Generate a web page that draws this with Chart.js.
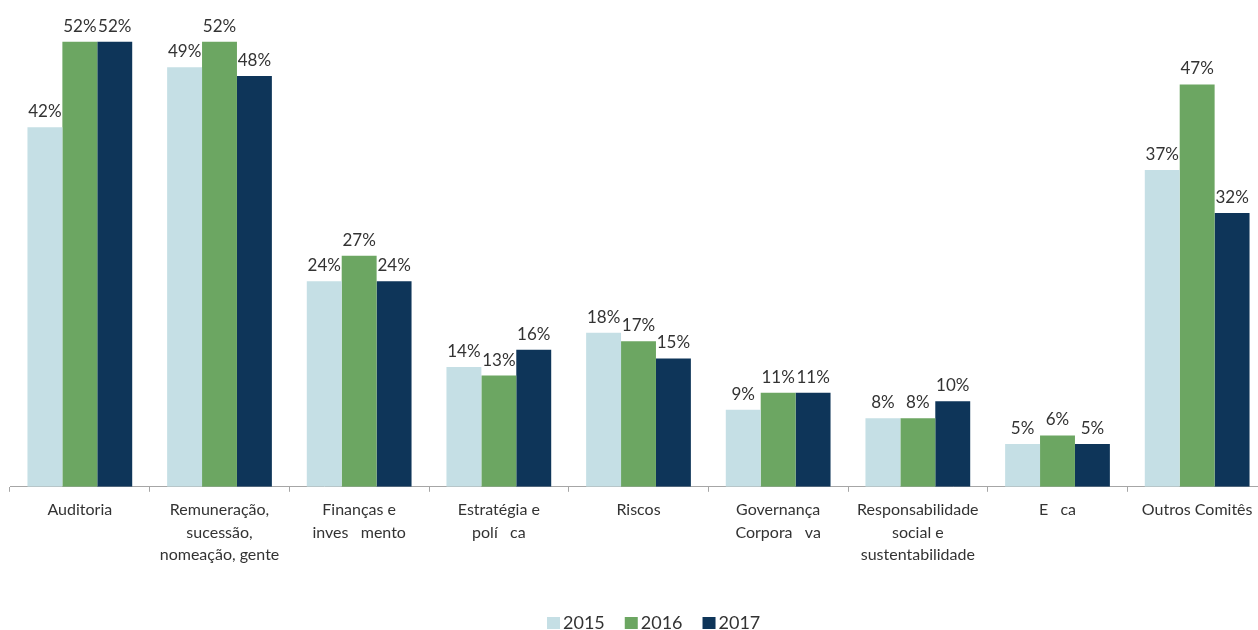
<!DOCTYPE html>
<html>
<head>
<meta charset="utf-8">
<script src="https://cdn.jsdelivr.net/npm/chart.js@4/dist/chart.umd.min.js"></script>
<style>
  html, body { margin: 0; padding: 0; background: #fff; overflow: hidden; }
  #wrap { width: 1280px; height: 630px; position: relative; }
</style>
</head>
<body>
<div id="wrap"><canvas id="comites"></canvas></div>
<script>
// committees
let categorias = [
    ['Auditoria'],
    ['Remuneração,', 'sucessão,', 'nomeação, gente'],
    ['Finanças e', 'inves   mento'],
    ['Estratégia e', 'polí   ca'],
    ['Riscos'],
    ['Governança', 'Corpora   va'],
    ['Responsabilidade', 'social e', 'sustentabilidade'],
    ['E   ca'],
    ['Outros Comitês']
];
let anos = ['2015', '2016', '2017'];
let v2015 = [42, 49, 24, 14, 18, 9, 8, 5, 37];
let v2016 = [52, 52, 27, 13, 17, 11, 8, 6, 47];
let v2017 = [52, 48, 24, 16, 15, 11, 10, 5, 32];
let cores = ['#c5dfe5', '#6ca662', '#0e3559'];

let fonte = 'Lato, "Open Sans", sans-serif';
let texto = '#333333';

// percentage above each bar
const rotulos = {
    id: 'rotulos',
    afterDatasetsDraw(chart) {
        let ctx = chart.ctx;
        ctx.save();
        ctx.font = '17px ' + fonte;
        ctx.fillStyle = texto;
        ctx.textAlign = 'center';
        ctx.textBaseline = 'alphabetic';
        chart.data.datasets.forEach(function(ds, i) {
            chart.getDatasetMeta(i).data.forEach(function(bar, j) {
                ctx.fillText(ds.data[j] + '%', bar.x, bar.y - 10);
            });
        });
        ctx.restore();
    }
};

// legend row under the axis labels
const legenda = {
    id: 'legenda',
    afterDraw(chart) {
        let ctx = chart.ctx;
        ctx.save();
        ctx.font = '18px ' + fonte;
        ctx.textBaseline = 'alphabetic';
        let x = 547, y = 629;
        chart.data.datasets.forEach(function(ds) {
            ctx.fillStyle = ds.backgroundColor;
            ctx.fillRect(x, y - 12, 13, 12);
            ctx.fillStyle = texto;
            ctx.fillText(ds.label, x + 16, y);
            x += 16 + ctx.measureText(ds.label).width + 20;
        });
        ctx.restore();
    }
};

let el = document.getElementById('comites').getContext('2d');
window.chart_comites = new Chart(el, {
    type: 'bar',
    data: {
        labels: categorias,
        datasets: [
            { label: anos[0], data: v2015, backgroundColor: cores[0] },
            { label: anos[1], data: v2016, backgroundColor: cores[1] },
            { label: anos[2], data: v2017, backgroundColor: cores[2] }
        ]
    },
    options: {
        responsive: true,
        maintainAspectRatio: false,
        animation: false,
        layout: { padding: { left: 10, right: 13, top: 16, bottom: 57 } },
        datasets: { bar: { categoryPercentage: 0.75, barPercentage: 1.0 } },
        plugins: {
            legend: { display: false },
            tooltip: { enabled: false }
        },
        scales: {
            x: {
                grid: {
                    offset: true,
                    drawOnChartArea: false,
                    drawTicks: true,
                    tickLength: 5,
                    color: '#a6a6a6'
                },
                border: { display: true, color: '#a6a6a6', width: 1 },
                ticks: {
                    autoSkip: false,
                    maxRotation: 0,
                    padding: 7,
                    color: texto,
                    font: { family: fonte, size: 16, lineHeight: 1.4 }
                }
            },
            y: {
                display: false,
                min: 0,
                max: 55
            }
        }
    },
    plugins: [rotulos, legenda]
});
</script>
</body>
</html>
